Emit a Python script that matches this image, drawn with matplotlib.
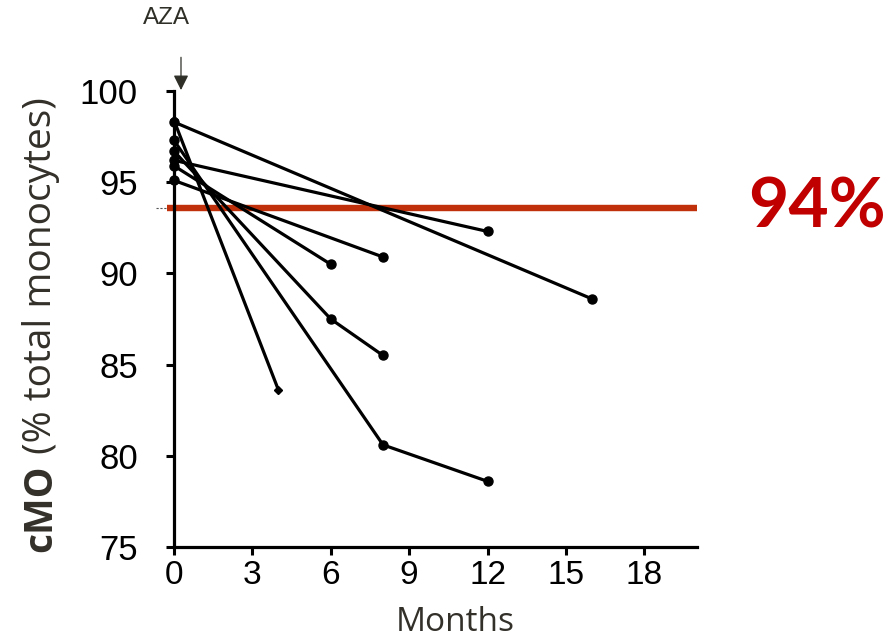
import matplotlib
matplotlib.use("Agg")
import matplotlib.pyplot as plt

# monocyte data, one list per patient (months, % classical monocytes)
months = [
    [0, 4],
    [0, 16],
    [0, 8, 12],
    [0, 6, 8],
    [0, 12],
    [0, 6],
    [0, 8],
]
cmo = [
    [98.4, 83.6],
    [98.3, 88.6],
    [97.3, 80.6, 78.6],
    [96.7, 87.5, 85.5],
    [96.2, 92.3],
    [95.9, 90.5],
    [95.1, 90.9],
]
markers = ["D", "o", "o", "o", "o", "o", "o"]

cutoff = 93.6
cutoff_label = "94%"
xticks = [0, 3, 6, 9, 12, 15, 18]
yticks = [75, 80, 85, 90, 95, 100]

fig = plt.figure(figsize=(8.92, 6.4), dpi=100)
ax = fig.add_axes([0.195, 0.1453, 0.586, 0.7125])

for x, y, m in zip(months, cmo, markers):
    ms = 4.5 if m == "D" else 6.5
    ax.plot(x, y, color="black", linewidth=2.3, marker=m, markersize=ms,
            clip_on=False, zorder=3)

# cutoff line
ax.plot([-0.25, 20], [cutoff, cutoff], color="#C0300A", linewidth=4.6,
        solid_capstyle="butt", clip_on=False, zorder=2)
ax.plot([-0.7, -0.25], [cutoff, cutoff], color="#555555", linewidth=0.8,
        linestyle=(0, (2, 1.5)), clip_on=False, zorder=2)
ax.text(24.6, cutoff, cutoff_label, color="#C00000", fontsize=50,
        fontweight="bold", family="Lato", ha="center", va="center")

# AZA arrow
ax.annotate("", xy=(0.27, 99.9), xytext=(0.27, 102.0),
            arrowprops=dict(arrowstyle="-|>,head_width=0.45,head_length=0.9",
                            color="#2f2f28", lw=0.9),
            annotation_clip=False)
ax.text(-0.3, 104.0, "AZA", fontsize=17.5, color="#2f2f28", ha="center",
        va="center", family="Liberation Sans")

ax.set_xlim(0, 20)
ax.set_ylim(75, 100)
ax.set_xticks(xticks)
ax.set_yticks(yticks)
for lab in ax.get_xticklabels():
    lab.set_family("Liberation Sans")
    lab.set_fontsize(24)
for lab in ax.get_yticklabels():
    lab.set_family("Liberation Sans")
    lab.set_fontsize(25)
ax.tick_params(direction="out", length=6, width=2.2)
ax.tick_params(axis="x", pad=3)
ax.tick_params(axis="y", pad=20)

for s in ["top", "right"]:
    ax.spines[s].set_visible(False)
for s in ["left", "bottom"]:
    ax.spines[s].set_linewidth(2.3)

ax.set_xlabel("Months", fontsize=24, family="Open Sans", color="#33302a")
ax.xaxis.set_label_coords(0.538, -0.13)

# y label: bold "cMO" followed by regular text
ylab = fig.text(0.046, 88 / 640, "cMO", fontsize=28, family="Open Sans",
                fontweight="bold", color="#33302a", rotation=90,
                ha="center", va="bottom")
fig.canvas.draw()
bb = ylab.get_window_extent()
fig.text(0.046, bb.y1 / fig.bbox.height, " (% total monocytes)",
         fontsize=28, family="Open Sans", color="#33302a", rotation=90,
         ha="center", va="bottom")

fig.savefig("out.png", dpi=100)
